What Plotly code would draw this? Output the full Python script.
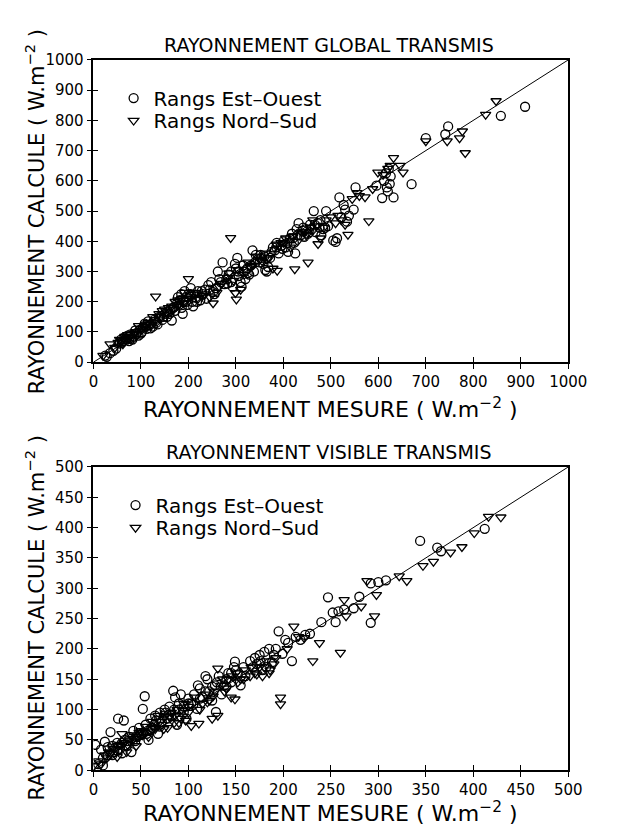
import plotly.graph_objects as go

W, H = 619, 836

# ---------------- data : global radiation (top panel) ----------------
glob_eo = [(25,22),(28,18),(35,30),(42,38),(48,45),(55,62),(58,75),(62,70),(65,82),(68,78),(72,88),(75,70),(78,92),(82,75),(85,85),(88,105),(92,98),(95,88),(98,108),(102,100),(105,115),(108,128),(112,110),(115,135),(118,122),(122,128),(125,118),(128,140),(132,130),(135,125),(140,148),(145,140),(150,160),(155,150),(158,168),(162,175),(165,138),(170,182),(172,170),(176,195),(178,215),(182,205),(185,225),(188,160),(190,200),(192,235),(195,215),(198,190),(200,225),(205,245),(208,200),(210,185),(215,215),(220,235),(225,205),(230,225),(235,240),(238,210),(242,255),(248,265),(252,232),(255,225),(258,245),(262,300),(268,265),(272,330),(276,258),(280,275),(285,290),(290,265),(293,250),(298,325),(300,310),(303,345),(306,285),(310,265),(312,250),(316,300),(320,275),(324,310),(328,290),(332,320),(335,370),(338,300),(342,355),(346,340),(350,330),(354,345),(358,325),(362,305),(365,300),(368,315),(372,345),(378,380),(382,370),(386,395),(390,360),(395,385),(400,400),(405,380),(410,365),(414,410),(418,425),(422,395),(425,360),(428,440),(432,460),(436,420),(440,435),(444,415),(448,440),(452,425),(456,455),(460,440),(464,500),(468,430),(472,460),(476,445),(480,420),(484,440),(490,500),(494,450),(505,403),(510,398),(513,410),(518,545),(522,480),(527,520),(530,505),(534,465),(538,485),(548,505),(552,578),(596,584),(608,543),(612,600),(616,625),(618,578),(620,565),(622,640),(624,590),(626,615),(632,545),(670,589),(700,741),(741,754),(747,780),(858,815),(909,845),
           (60,65),(70,75),(80,78),(90,92),(100,95),(110,118),(120,112),(130,135),(138,150),(148,150),(160,160),(168,180),(180,190),(186,180),(195,200),(205,225),(218,200),(228,235),(245,240),(265,275),(282,260),(290,300),(305,300),(315,320),(325,295),(340,330),(352,355),(360,350),(375,365),(385,380),(398,375),(408,395),(420,410),(430,420),(442,445),(455,430),(466,455),(478,470),(488,445)]
glob_ns = [(20,22),(35,60),(45,48),(52,65),(60,72),(66,85),(72,90),(80,80),(86,95),(95,120),(100,110),(108,118),(115,130),(120,125),(125,150),(131,218),(138,160),(145,170),(150,175),(158,180),(165,185),(172,200),(180,190),(186,210),(192,230),(200,276),(205,215),(212,225),(220,210),(230,220),(245,215),(252,195),(260,230),(270,260),(282,280),(289,411),(295,270),(299,229),(301,208),(310,240),(318,290),(325,330),(335,320),(345,350),(355,335),(362,360),(370,345),(378,310),(387,303),(395,395),(405,410),(415,380),(424,308),(430,400),(438,430),(448,420),(452,330),(462,470),(473,391),(478,410),(485,445),(500,480),(515,485),(522,470),(530,455),(536,422),(545,540),(560,550),(572,546),(580,467),(588,573),(599,628),(610,620),(620,640),(632,676),(646,650),(652,628),(700,731),(745,731),(771,741),(777,764),(783,692),(826,819),(848,864),
           (55,75),(62,60),(75,80),(90,100),(110,125),(130,140),(142,150),(155,165),(168,175),(178,205),(190,195),(198,210),(215,230),(235,225),(265,250),(285,295),(305,305),(330,315),(350,340),(365,340),(385,390),(400,395),(420,415),(445,430),(458,445),(470,450),(490,470),(510,460),(555,560),(625,650)]

# ---------------- data : visible radiation (bottom panel) ----------------
vis_eo = [(2,42),(5,10),(8,34),(10,8),(12,47),(15,38),(18,63),(20,25),(22,30),(25,45),(26,85),(28,35),(30,28),(32,82),(33,50),(35,40),(38,55),(40,30),(42,65),(45,55),(48,70),(50,60),(52,101),(54,122),(55,75),(57,65),(58,50),(60,85),(62,70),(65,90),(68,60),(70,95),(72,80),(75,100),(78,85),(80,105),(82,90),(84,131),(86,120),(88,75),(90,100),(92,125),(95,105),(98,85),(100,118),(103,110),(106,125),(109,101),(110,140),(112,135),(115,120),(118,155),(120,150),(122,130),(125,115),(128,140),(129,96),(132,155),(135,125),(138,140),(140,150),(142,160),(145,145),(148,170),(149,179),(150,165),(155,140),(160,155),(165,180),(170,185),(172,175),(175,190),(178,165),(180,195),(185,200),(188,178),(190,190),(195,229),(199,192),(202,215),(205,210),(209,180),(213,220),(218,215),(223,223),(228,225),(240,244),(247,285),(252,260),(255,244),(258,262),(264,265),(274,267),(280,286),(292,243),(292,308),(300,310),(308,313),(344,378),(362,367),(366,361),(412,398),
          (10,20),(15,25),(20,40),(25,32),(30,45),(36,48),(40,52),(44,48),(48,58),(52,62),(56,60),(60,68),(64,75),(66,82),(70,72),(74,90),(76,95),(80,92),(85,100),(90,110),(95,95),(100,110),(105,108),(112,118),(118,130),(125,138),(130,145),(140,138),(145,160),(152,158),(158,170),(168,170),(176,180),(182,170),(192,200)]
vis_ns = [(0,7),(8,10),(14,20),(18,28),(22,35),(25,22),(28,42),(30,60),(35,30),(38,48),(42,52),(45,40),(48,62),(52,58),(55,72),(58,55),(62,80),(65,68),(68,90),(72,75),(75,88),(78,70),(82,95),(85,78),(88,100),(92,85),(95,110),(97,82),(100,95),(103,73),(107,120),(111,77),(115,110),(118,125),(122,115),(125,85),(128,130),(131,168),(131,90),(135,140),(138,130),(142,150),(145,120),(149,117),(150,160),(155,150),(160,165),(165,155),(170,160),(175,170),(178,155),(182,180),(186,165),(190,175),(197,120),(197,109),(204,200),(211,237),(216,220),(222,218),(231,180),(238,210),(260,194),(264,281),(266,254),(282,270),(288,312),(296,254),(298,289),(322,320),(330,312),(347,337),(358,344),(376,359),(388,368),(401,391),(416,418),(429,417),
          (5,15),(12,25),(16,30),(20,38),(26,40),(32,45),(36,42),(40,58),(46,55),(50,65),(54,62),(60,64),(64,70),(70,80),(74,68),(80,88),(86,90),(90,78),(94,98),(100,105),(112,100),(120,112),(126,122),(136,150),(140,135),(146,155),(152,145),(158,150),(166,170),(172,158),(180,170),(185,160),(192,185)]

labels = ["Rangs Est\u2013Ouest", "Rangs Nord\u2013Sud"]
titles = ["RAYONNEMENT GLOBAL TRANSMIS", "RAYONNEMENT VISIBLE TRANSMIS"]
xtitle = "RAYONNEMENT MESURE ( W.m<sup>\u22122</sup> )"
ytitle = "RAYONNEMENT CALCULE ( W.m<sup>\u22122</sup> )"
ranges = [1000, 500]
dticks = [100, 50]

FONT = "DejaVu Sans"
fig = go.Figure()

def px_x(p):
    return p / W

def px_y(p):
    return 1 - p / H

xdom = [px_x(92), px_x(586)]
ydoms = [[px_y(361), px_y(52)], [px_y(778), px_y(468)]]

# one single-item legend per series and panel
legend_names = [["legend", "legend3"], ["legend2", "legend4"]]
legend_pos = [[(113, 91), (113, 114)], [(115, 507), (115, 530)]]

panels = [(glob_eo, glob_ns), (vis_eo, vis_ns)]
symbols = ["circle-open", "triangle-down-open"]
for i, series in enumerate(panels):
    xa = "x" if i == 0 else "x2"
    ya = "y" if i == 0 else "y2"
    r = ranges[i]
    fig.add_trace(go.Scatter(x=[0, r], y=[0, r], mode="lines",
                             line=dict(color="black", width=1),
                             xaxis=xa, yaxis=ya, showlegend=False, hoverinfo="skip"))
    for k, pts in enumerate(series):
        fig.add_trace(go.Scatter(x=[p[0] for p in pts], y=[p[1] for p in pts], mode="markers",
                                 marker=dict(symbol=symbols[k], size=9, color="black",
                                             line=dict(width=1.3, color="black")),
                                 name=labels[k], xaxis=xa, yaxis=ya,
                                 legend=legend_names[i][k]))
    # dummy trace for overlay axes (inside tick marks)
    fig.add_trace(go.Scatter(x=[None], y=[None], mode="markers", showlegend=False,
                             xaxis="x%d" % (3 + 2 * i), yaxis="y%d" % (3 + 2 * i),
                             hoverinfo="skip"))

axis_common = dict(showline=True, linecolor="black", linewidth=1.5, mirror=True,
                   ticks="outside", ticklen=5, tickwidth=1.3, tickcolor="black",
                   showgrid=False, zeroline=False,
                   tickfont=dict(family=FONT, size=15, color="black"))
inner_common = dict(showline=False, ticks="inside", ticklen=5, tickwidth=1.3,
                    tickcolor="black", showgrid=False, zeroline=False,
                    showticklabels=False)

layout = dict(
    width=W, height=H, margin=dict(l=0, r=0, t=0, b=0),
    paper_bgcolor="white", plot_bgcolor="white",
    font=dict(family=FONT, color="black"),
)
for i in range(2):
    sx = "" if i == 0 else "2"
    r = ranges[i]
    layout["xaxis" + sx] = dict(axis_common, domain=xdom, range=[0, r], dtick=dticks[i],
                                anchor="y" + sx)
    layout["yaxis" + sx] = dict(axis_common, domain=ydoms[i], range=[0, r], dtick=dticks[i],
                                anchor="x" + sx)
    o = str(3 + 2 * i)
    layout["xaxis" + o] = dict(inner_common, domain=xdom, range=[0, r], dtick=dticks[i],
                               anchor="y" + o, overlaying="x" + sx)
    layout["yaxis" + o] = dict(inner_common, domain=ydoms[i], range=[0, r], dtick=dticks[i],
                               anchor="x" + o, overlaying="y" + sx)

for i in range(2):
    for k in range(2):
        lx, ly = legend_pos[i][k]
        layout[legend_names[i][k]] = dict(x=px_x(lx), y=px_y(ly), xanchor="left",
                                          yanchor="middle",
                                          font=dict(family=FONT, size=20, color="black"),
                                          bgcolor="rgba(0,0,0,0)", itemwidth=30)

fig.update_layout(**layout)

ann = []
title_y = [37, 453]
xt_y = [408, 821]
yt_c = [207, 622]
for i in range(2):
    ann.append(dict(text=titles[i], x=px_x(337), y=px_y(title_y[i]), xref="paper", yref="paper",
                    showarrow=False, xanchor="center", yanchor="middle",
                    font=dict(family=FONT, size=19, color="black")))
    ann.append(dict(text=xtitle, x=px_x(339), y=px_y(xt_y[i]), xref="paper", yref="paper",
                    showarrow=False, xanchor="center", yanchor="middle",
                    font=dict(family=FONT, size=22, color="black")))
    ann.append(dict(text=ytitle, x=px_x(31), y=px_y(yt_c[i]), xref="paper", yref="paper",
                    showarrow=False, xanchor="center", yanchor="middle", textangle=-90,
                    font=dict(family=FONT, size=21, color="black")))
fig.update_layout(annotations=ann)

fig.write_html("out.html")
